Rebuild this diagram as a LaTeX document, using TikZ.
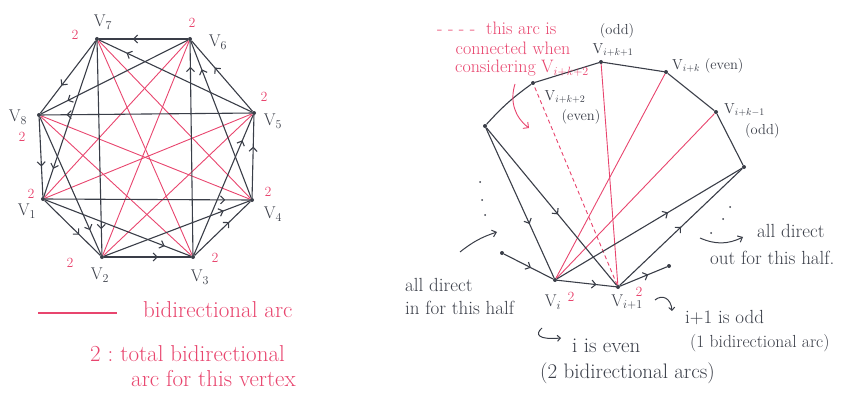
\documentclass[tikz,border=0pt]{standalone}
\usetikzlibrary{arrows.meta,decorations.markings}
\definecolor{ink}{HTML}{3A3E48}
\definecolor{rd}{HTML}{E8456E}
\newcommand{\hsz}[1]{\fontsize{#1}{#1}\selectfont}
\begin{document}
\begin{tikzpicture}[x=1pt,y=-1pt,
  blk/.style={draw=ink, line width=1.1pt},
  redl/.style={draw=rd, line width=0.9pt},
  vd/.style={circle, fill=ink, inner sep=0pt, minimum size=4pt},
  marr/.style={postaction={decorate}, decoration={markings, mark=at position #1 with {\arrow{Straight Barb[length=4pt,width=8pt]}}}},
  lab/.style={text=ink, font=\hsz{17}, inner sep=0pt},
  rlab/.style={text=ink, font=\hsz{14.5}, inner sep=0pt},
  two/.style={text=rd, font=\hsz{14}, inner sep=0pt},
  pink/.style={text=rd, font=\hsz{18}, inner sep=0pt},
  leg/.style={text=rd, font=\hsz{23}, inner sep=0pt},
  note/.style={text=ink, font=\hsz{19}, inner sep=0pt},
  fdot/.style={circle, fill=ink, inner sep=0pt, minimum size=2pt},
]
\useasboundingbox (0,0) rectangle (841,396);

% ---------------- left graph ----------------
\node[vd] (v7) at (97,39) {};
\node[vd] (v6) at (190,39) {};
\node[vd] (v5) at (254,113) {};
\node[vd] (v4) at (252,200) {};
\node[vd] (v3) at (193,257) {};
\node[vd] (v2) at (102,257) {};
\node[vd] (v1) at (43,199) {};
\node[vd] (v8) at (39,115) {};

% bidirectional (red)
\foreach \a/\b in {v7/v3, v7/v4, v6/v1, v6/v2, v8/v4, v8/v3, v5/v1, v5/v2}
  \draw[redl] (\a) -- (\b);

% outer cycle
\foreach \a/\b in {v6/v7, v7/v8, v8/v1, v1/v2, v2/v3, v3/v4, v4/v5, v5/v6}
  \draw[blk, marr=0.62] (\a) -- (\b);
% distance two
\foreach \a/\b in {v5/v7, v6/v8, v7/v1, v8/v2, v1/v3, v2/v4, v3/v5, v4/v6}
  \draw[blk, marr=0.82] (\a) -- (\b);
% distance three
\foreach \a/\b in {v5/v8, v7/v2, v1/v4, v3/v6}
  \draw[blk, marr=0.88] (\a) -- (\b);

% vertex labels
\node[lab] (l7) at (103,22) {V$_7$};
\node[lab] (l6) at (218,42) {V$_6$};
\node[lab] (l5) at (273,121) {V$_5$};
\node[lab] (l4) at (273,214) {V$_4$};
\node[lab] (l3) at (200,277) {V$_3$};
\node[lab] (l2) at (100,275) {V$_2$};
\node[lab] (l1) at (27,211) {V$_1$};
\node[lab] (l8) at (18,117) {V$_8$};

\node[two] (t7) at (75,35) {2};
\node[two] (t6) at (192,23) {2};
\node[two] (t5) at (264,97) {2};
\node[two] (t4) at (268,192) {2};
\node[two] (t3) at (215,258) {2};
\node[two] (t2) at (70,263) {2};
\node[two] (t1) at (31,194) {2};
\node[two] (t8) at (22,137) {2};

% legend
\coordinate (lga) at (38,313);
\coordinate (lgb) at (117,313);
\draw[draw=rd, line width=1.4pt] (lga) -- (lgb);
\node[leg, anchor=west] (lg1) at (143,310) {bidirectional arc};
\node[leg, anchor=west] (lg2) at (90,354) {2 :\ total bidirectional};
\node[leg, anchor=west] (lg3) at (131,379) {arc for this vertex};

% ---------------- right graph ----------------
\node[vd] (A) at (485,126) {};
\node[vd] (P2) at (533,83) {};
\node[vd] (P1) at (601,62) {};
\node[vd] (Pk) at (666,72) {};
\node[vd] (Pm) at (716,112) {};
\node[vd] (B) at (744,167) {};
\node[vd] (Vi) at (555,280) {};
\node[vd] (Vj) at (618,287) {};
\node[vd] (C) at (502,253) {};
\node[vd] (D) at (669,266) {};

\draw[blk] (A) to[bend left=6] (P2);
\draw[blk] (P2) -- (P1) -- (Pk) -- (Pm) -- (B);

\draw[redl] (Vi) -- (Pk);
\draw[redl] (Vi) -- (Pm);
\draw[redl] (Vj) -- (P1);
\draw[redl, dash pattern=on 4pt off 3pt] (Vj) -- (P2);

\draw[blk, marr=0.64] (A) -- (Vi);
\draw[blk, marr=0.55] (A) -- (Vj);
\draw[blk, marr=0.55] (C) -- (Vi);
\draw[blk, marr=0.67] (Vi) -- (Vj);
\draw[blk, marr=0.6] (Vi) -- (B);
\draw[blk, marr=0.5] (Vj) -- (B);
\draw[blk, marr=0.6] (Vj) -- (D);

% labels
\node[rlab] (lp1a) at (617,31) {(odd)};
\node[rlab] (lp1) at (613,50) {V$_{i+k+1}$};
\node[rlab] (lp2) at (565,97) {V$_{i+k+2}$};
\node[rlab] (lp2b) at (581,117) {(even)};
\node[rlab, anchor=west] (lpk) at (672,66) {V$_{i+k}$ (even)};
\node[rlab, anchor=west] (lpm) at (724,110) {V$_{i+k-1}$};
\node[rlab, anchor=west] (lpmb) at (745,131) {(odd)};

\node[lab] (lvi) at (553,302) {V$_i$};
\node[two] (tvi) at (571,297) {2};
\node[lab] (lvj) at (627,302) {V$_{i+1}$};
\node[two] (tvj) at (639,292) {2};

% pink note
\node[pink, anchor=west] (n1) at (437,28) {- - - -\ \ this arc is};
\node[pink] (n2) at (513,48) {connected when};
\node[pink, anchor=west] (n3) at (455,68) {considering V$_{i+k+2}$};
\coordinate (na) at (515,84);
\coordinate (nb) at (529,128);
\draw[rd, line width=0.9pt, -{Straight Barb[length=4pt,width=8pt]}] (na) to[bend right=35] (nb);

% dots
\node[fdot] (d1) at (480,182) {};
\node[fdot] (d2) at (482,200) {};
\node[fdot] (d3) at (485,215) {};
\node[fdot] (d4) at (730,207) {};
\node[fdot] (d5) at (723,219) {};
\node[fdot] (d6) at (711,233) {};

% small arrows
\coordinate (ia) at (460,252);
\coordinate (ib) at (497,232);
\draw[ink, line width=1pt, -{Straight Barb[length=4pt,width=7pt]}] (ia) to[bend left=10] (ib);
\coordinate (oa) at (700,238);
\coordinate (ob) at (743,237);
\draw[ink, line width=1pt, -{Straight Barb[length=4pt,width=7pt]}] (oa) to[bend right=25] (ob);

\node[note, anchor=west] (in1) at (405,285) {all direct};
\node[note, anchor=west] (in2) at (405,308) {in for this half};
\node[note, anchor=west] (out1) at (757,231) {all direct};
\node[note, anchor=west] (out2) at (710,258) {out for this half.};

% hooks
\coordinate (ha) at (655,300);
\coordinate (hb) at (672,311);
\draw[ink, line width=1pt, -{Straight Barb[length=3pt,width=6pt]}] (ha) .. controls (662,294) and (671,298) .. (hb);
\coordinate (ga) at (542,328);
\coordinate (gb) at (561,338);
\draw[ink, line width=1pt, -{Straight Barb[length=3pt,width=6pt]}] (ga) .. controls (535,334) and (537,340) .. (gb);

\node[note, anchor=west] (odd1) at (685,318) {i+1 is odd};
\node[note, anchor=west, font=\hsz{17.5}] (odd2) at (690,343) {(1 bidirectional arc)};
\node[note, anchor=west, font=\hsz{21}] (ev1) at (572,346) {i is even};
\node[note, anchor=west, font=\hsz{21}] (ev2) at (540,373) {(2 bidirectional arcs)};
\end{tikzpicture}
\end{document}
